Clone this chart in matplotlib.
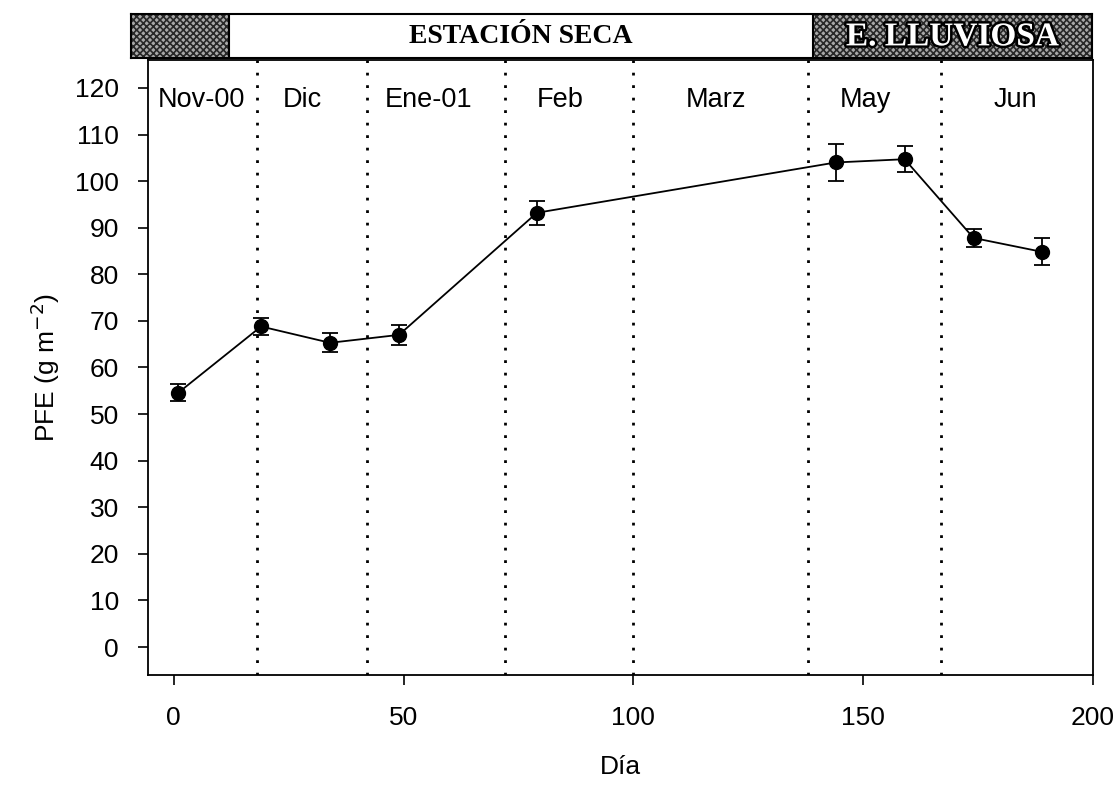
import matplotlib
matplotlib.use("Agg")
import matplotlib.pyplot as plt
import matplotlib.patheffects as pe
from matplotlib.patches import Rectangle

# Data
dias = [1, 19, 34, 49, 79, 144, 159, 174, 189]
pfe = [54.6, 68.8, 65.3, 67.0, 93.2, 104.0, 104.7, 87.8, 84.8]
err = [1.8, 1.9, 2.0, 2.2, 2.6, 4.0, 2.8, 1.9, 2.9]
limites_mes = [18, 42, 72, 100, 138, 167]
meses = ["Nov-00", "Dic", "Ene-01", "Feb", "Marz", "May", "Jun"]
pos_meses = [6, 28, 55.5, 84, 118, 150.5, 183]
x_ticks = [0, 50, 100, 150, 200]
y_ticks = list(range(0, 121, 10))

plt.rcParams['font.family'] = ['Liberation Sans', 'DejaVu Sans']
plt.rcParams['hatch.linewidth'] = 1.2

fig = plt.figure(figsize=(11.19, 7.87), dpi=100)
ax = fig.add_axes([0.1323, 0.1423, 0.9768 - 0.1323, 0.9238 - 0.1423])

ax.errorbar(dias, pfe, yerr=err, color='black', marker='o', markersize=10,
            linewidth=1.3, elinewidth=1.3, capsize=6, capthick=1.3)

for xv in limites_mes:
    ax.axvline(xv, color='black', linestyle=(0, (1, 3.5)), linewidth=2)

for lab, xp in zip(meses, pos_meses):
    ax.text(xp, 117.5, lab, ha='center', va='center', fontsize=19.5)

ax.set_xlim(-5.6, 200)
ax.set_ylim(-6, 126)
ax.set_xticks(x_ticks)
ax.set_yticks(y_ticks)
ax.tick_params(direction='out', length=7, width=1.2, labelsize=19)
ax.tick_params(axis='x', pad=15)
ax.tick_params(axis='y', pad=14)
for s in ax.spines.values():
    s.set_linewidth(1.3)
ax.set_xlabel("Día", fontsize=19, labelpad=18)
ax.set_ylabel("PFE (g m$^{-2}$)", fontsize=19, labelpad=9)

# Season banner
bx = fig.add_axes([0.1171, 0.9263, 0.9759 - 0.1171, 0.9822 - 0.9263])
bx.set_xlim(0, 1)
bx.set_ylim(0, 1)
bx.set_xticks([])
bx.set_yticks([])
for s in bx.spines.values():
    s.set_linewidth(1.5)
bx.add_patch(Rectangle((0, 0), 0.102, 1, facecolor='#a8a8a8', edgecolor='#282828',
                       hatch='xxxxx', linewidth=0))
bx.add_patch(Rectangle((0.7097, 0), 1 - 0.7097, 1, facecolor='#a8a8a8', edgecolor='#282828',
                       hatch='xxxxx', linewidth=0))
bx.axvline(0.102, color='black', linewidth=1.5)
bx.axvline(0.7097, color='black', linewidth=1.5)
bx.text((0.102 + 0.7097) / 2, 0.48, "ESTACIÓN SECA", ha='center', va='center',
        fontsize=20, fontweight='bold', family='Liberation Serif')
bx.text((0.7097 + 1) / 2, 0.48, "E. LLUVIOSA", ha='center', va='center',
        fontsize=24, fontweight='bold', family='Liberation Serif', color='white',
        path_effects=[pe.withStroke(linewidth=3.5, foreground='black')])

fig.savefig("out.png", dpi=100)
